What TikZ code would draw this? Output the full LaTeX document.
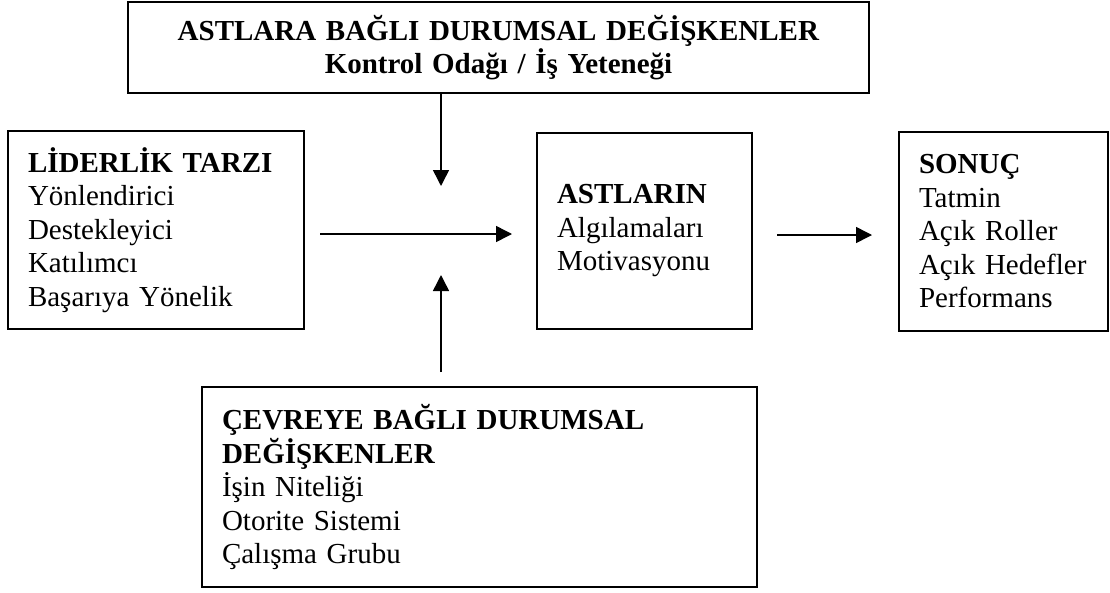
\documentclass[tikz,border=0pt]{standalone}
\usepackage{fontspec}
\setmainfont{Liberation Serif}
\usetikzlibrary{arrows.meta}

\begin{document}
\begin{tikzpicture}[x=1pt, y=-1pt,
    every node/.style={draw, line width=1.5pt, inner xsep=20pt, inner ysep=0pt, align=left,
        font=\fontsize{29}{33.5}\selectfont},
    ok/.style={line width=1.5pt, -{Triangle[length=16pt,width=16pt]}}]
        \useasboundingbox (0,0) rectangle (1110,592);

        \node[text width=701pt, align=center, minimum height=91pt] (ust) at (498.5,47.5)
            {\textbf{ASTLARA BAĞLI DURUMSAL DEĞİŞKENLER}\\ \textbf{Kontrol Odağı / İş Yeteneği}};
        \node[text width=256pt, minimum height=198pt] (lider) at (156,230)
            {\textbf{LİDERLİK TARZI}\\ Yönlendirici\\ Destekleyici\\ Katılımcı\\ Başarıya Yönelik};
        \node[text width=175pt, minimum height=196pt] (astlar) at (644.5,231)
            {\textbf{ASTLARIN}\\ Algılamaları\\ Motivasyonu};
        \node[text width=169pt, minimum height=199pt] (sonuc) at (1003.5,231.5)
            {\textbf{SONUÇ}\\ Tatmin\\ Açık Roller\\ Açık Hedefler\\ Performans};
        \node[text width=515pt, minimum height=200pt] (cevre) at (479.5,487)
            {\textbf{ÇEVREYE BAĞLI DURUMSAL}\\ \textbf{DEĞİŞKENLER}\\ İşin Niteliği\\ Otorite Sistemi\\ Çalışma Grubu};

        \coordinate (a1) at (320,234);
        \coordinate (a2) at (512,234);
        \coordinate (b1) at (777,235);
        \coordinate (b2) at (872,235);
        \coordinate (c1) at (441,186);
        \coordinate (d1) at (441,372);
        \coordinate (d2) at (441,275);

        \draw[ok] (a1) -- (a2);
        \draw[ok] (b1) -- (b2);
        \draw[ok] (ust.south -| c1) -- (c1);
        \draw[ok] (d1) -- (d2);
    \end{tikzpicture}
\end{document}
